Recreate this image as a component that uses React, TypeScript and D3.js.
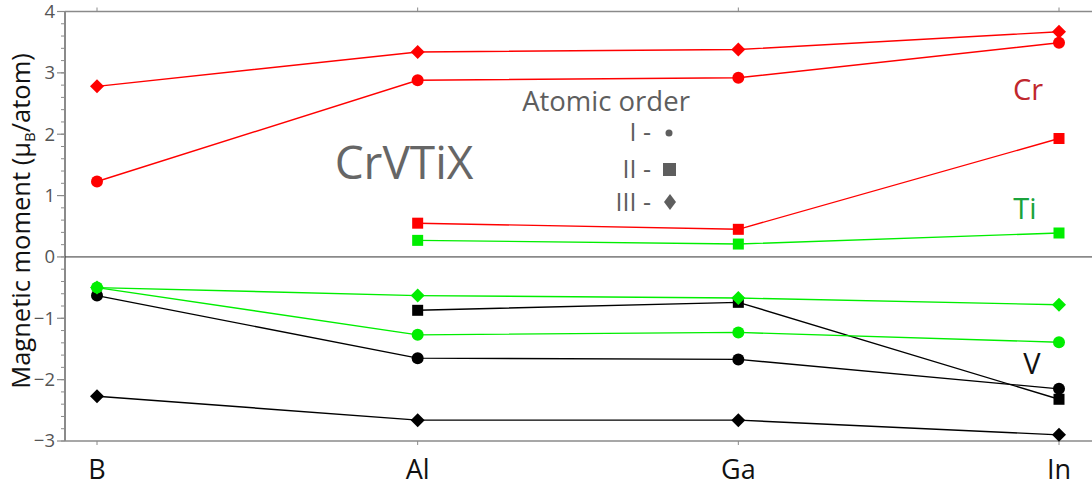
import React from "react";
import * as d3 from "d3";

// Substitution elements on the X site
const categories = ["B", "Al", "Ga", "In"];

// Magnetic moments (μB/atom) per element and atomic order type (null = not computed)
const crOrderI = [1.23, 2.88, 2.92, 3.49];
const crOrderII = [null, 0.55, 0.45, 1.93];
const crOrderIII = [2.78, 3.34, 3.38, 3.67];

const tiOrderI = [-0.5, -1.27, -1.23, -1.39];
const tiOrderII = [null, 0.27, 0.21, 0.39];
const tiOrderIII = [-0.5, -0.63, -0.67, -0.78];

const vOrderI = [-0.63, -1.65, -1.67, -2.15];
const vOrderII = [null, -0.87, -0.74, -2.32];
const vOrderIII = [-2.27, -2.66, -2.66, -2.9];

const yTicks = [-3, -2, -1, 0, 1, 2, 3, 4];

type Shape = "circle" | "square" | "diamond";
interface Series {
  values: (number | null)[];
  color: string;
  shape: Shape;
}

const series: Series[] = [
  { values: vOrderIII, color: "#000000", shape: "diamond" },
  { values: vOrderI, color: "#000000", shape: "circle" },
  { values: vOrderII, color: "#000000", shape: "square" },
  { values: tiOrderII, color: "#00ee00", shape: "square" },
  { values: tiOrderI, color: "#00ee00", shape: "circle" },
  { values: tiOrderIII, color: "#00ee00", shape: "diamond" },
  { values: crOrderII, color: "#ff0000", shape: "square" },
  { values: crOrderI, color: "#ff0000", shape: "circle" },
  { values: crOrderIII, color: "#ff0000", shape: "diamond" },
];

const W = 1092;
const H = 488;
const left = 65;
const top = 11.5;
const bottom = 441;

const FONT = "'Open Sans', 'Noto Sans', sans-serif";

function Marker({ shape, x, y, color }: { shape: Shape; x: number; y: number; color: string }) {
  if (shape === "circle") return <circle cx={x} cy={y} r={6} fill={color} />;
  if (shape === "square") return <rect x={x - 5.5} y={y - 5.5} width={11} height={11} fill={color} />;
  const p = `M${x},${y - 7}L${x + 7},${y}L${x},${y + 7}L${x - 7},${y}Z`;
  return <path d={p} fill={color} />;
}

export default function App() {
  const x = d3.scalePoint<string>().domain(categories).range([97, 1059]);
  const y = d3.scaleLinear().domain([-3, 4]).range([bottom, top]);
  const minorTicks = d3.range(-3, 4.001, 0.2).map((v) => +v.toFixed(1));

  const line = d3
    .line<{ c: string; v: number | null }>()
    .defined((d) => d.v !== null)
    .x((d) => x(d.c) as number)
    .y((d) => y(d.v as number));

  const axisColor = "#8a8a8a";
  const textGray = "#5e5e5e";

  return (
    <svg
      width={W}
      height={H}
      style={{ position: "absolute", left: 0, top: 0, background: "#fff" }}
      fontFamily={FONT}
    >
      {/* frame */}
      <line x1={left} x2={W} y1={top} y2={top} stroke={axisColor} strokeWidth={1.5} />
      <line x1={left} x2={W} y1={bottom} y2={bottom} stroke={axisColor} strokeWidth={1.5} />
      <line x1={left} x2={left} y1={top} y2={bottom} stroke={axisColor} strokeWidth={2} />

      {/* y ticks */}
      {minorTicks.map((t) => (
        <line key={"m" + t} x1={left - 4} x2={left} y1={y(t)} y2={y(t)} stroke={axisColor} strokeWidth={1} />
      ))}
      {yTicks.map((t) => (
        <g key={"t" + t}>
          <line x1={left - 8} x2={left} y1={y(t)} y2={y(t)} stroke={axisColor} strokeWidth={1.2} />
          <text x={left - 10} y={y(t)} dy="0.35em" textAnchor="end" fontSize={18.5} fill="#555">
            {t < 0 ? "\u2212" + Math.abs(t) : t}
          </text>
        </g>
      ))}

      {/* x ticks and labels */}
      {categories.map((c) => (
        <g key={c}>
          <line x1={x(c)} x2={x(c)} y1={bottom} y2={bottom + 4} stroke={axisColor} strokeWidth={1} />
          <line x1={x(c)} x2={x(c)} y1={top} y2={top - 4} stroke={axisColor} strokeWidth={1} />
          <text x={x(c)} y={479} textAnchor="middle" fontSize={27} fill="#111">
            {c}
          </text>
        </g>
      ))}

      {/* zero line */}
      <line x1={left} x2={W} y1={y(0)} y2={y(0)} stroke="#333" strokeWidth={1} />

      {/* y axis title */}
      <text
        transform={`translate(30,${221}) rotate(-90)`}
        textAnchor="middle"
        fontSize={25.5}
        fill="#111"
      >
        Magnetic moment (μ<tspan fontSize={15} dy={5}>B</tspan>
        <tspan dy={-5}>/atom)</tspan>
      </text>

      {/* series lines */}
      {series.map((s, i) => (
        <path
          key={"l" + i}
          d={line(categories.map((c, j) => ({ c, v: s.values[j] }))) || ""}
          fill="none"
          stroke={s.color}
          strokeWidth={1.4}
        />
      ))}

      {/* series markers */}
      {series.map((s, i) =>
        s.values.map((v, j) =>
          v === null ? null : (
            <Marker key={`p${i}-${j}`} shape={s.shape} x={x(categories[j]) as number} y={y(v)} color={s.color} />
          )
        )
      )}

      {/* annotations */}
      <text x={404} y={179} textAnchor="middle" fontSize={46} fill="#666">
        CrVTiX
      </text>
      <text x={606} y={111} textAnchor="middle" fontSize={27.5} fill={textGray}>
        Atomic order
      </text>
      <text x={651} y={141} textAnchor="end" fontSize={25} fill={textGray}>I -</text>
      <circle cx={669} cy={133} r={3.5} fill={textGray} />
      <text x={651} y={178} textAnchor="end" fontSize={25} fill={textGray}>II -</text>
      <rect x={663} y={163} width={13} height={13} fill={textGray} />
      <text x={651} y={211} textAnchor="end" fontSize={25} fill={textGray}>III -</text>
      <path d="M670,194L676,202L670,210L664,202Z" fill={textGray} />

      <text x={1028} y={100} textAnchor="middle" fontSize={29} fill="#c0272d">Cr</text>
      <text x={1025} y={219} textAnchor="middle" fontSize={29} fill="#1aa33c">Ti</text>
      <text x={1032} y={374} textAnchor="middle" fontSize={29} fill="#111">V</text>
    </svg>
  );
}
